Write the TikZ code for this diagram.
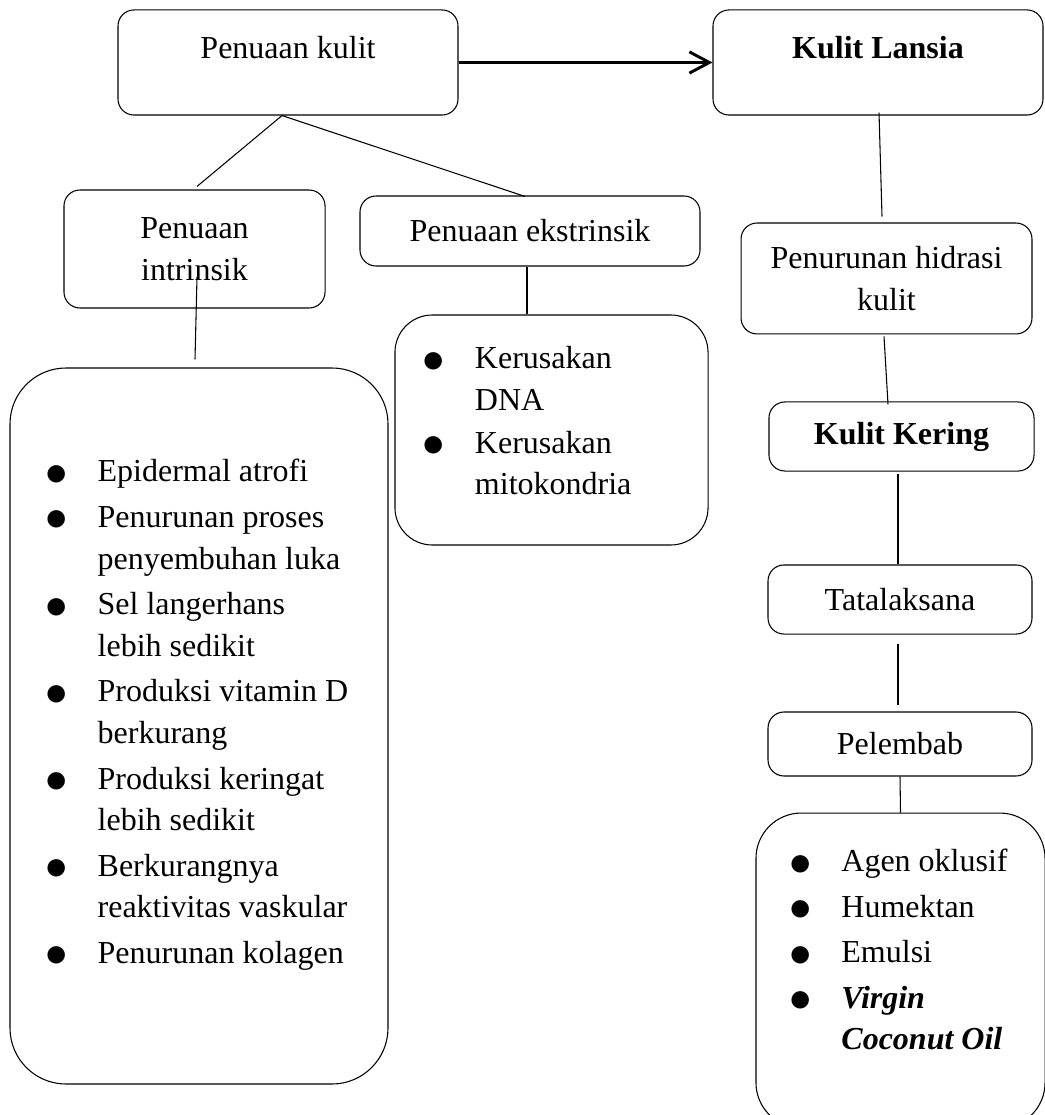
\documentclass[tikz,border=0pt]{standalone}
\usepackage{fontspec}
\usepackage{graphicx}
\setmainfont{Liberation Serif}
\usetikzlibrary{arrows.meta,calc}
\newcommand{\itembullet}{\makebox[18pt][l]{\hspace*{-1.5pt}\raisebox{-1.3pt}{\scalebox{1.4}{$\bullet$}}}}
\newcommand{\hangpad}{\hspace*{18pt}}

\begin{document}
\begin{tikzpicture}[
  x=0.375pt, y=-0.375pt,
  every node/.style={font=\fontsize{12pt}{15.6pt}\selectfont},
  stage/.style={rectangle,rounded corners=6pt,draw,align=center},
  headbox/.style={stage,text height=8.25pt,text depth=11.6pt},
  listbox/.style={rectangle,draw,align=flush left},
  line/.style={-},
  arrow/.style={-{Straight Barb[length=7.5pt,width=8pt]},line width=1.1pt}
]
\useasboundingbox (0,0) rectangle (1044,1115);

\node[headbox,minimum width=127.5pt,minimum height=39.4pt] (kulit) at (288,62.5) {Penuaan kulit};
\node[headbox,minimum width=123.75pt,minimum height=39.4pt] (lansia) at (878,62.5) {\textbf{Kulit Lansia}};
\node[stage,minimum width=97.9pt,minimum height=44.25pt] (intr) at (194.5,249) {Penuaan\\intrinsik};
\node[stage,minimum width=127.5pt,minimum height=26.25pt] (ekstr) at (530,231) {Penuaan ekstrinsik};
\node[stage,minimum width=109.1pt,minimum height=41.6pt] (hidrasi) at (886.5,278.5) {Penurunan hidrasi\\kulit};
\node[stage,minimum width=99.4pt,minimum height=25.9pt] (kering) at (901.5,436.5) {\textbf{Kulit Kering}};
\node[stage,minimum width=99pt,minimum height=25.9pt] (tata) at (900,599.5) {Tatalaksana};
\node[stage,minimum width=99pt,minimum height=24pt] (pelembab) at (900,744) {Pelembab};

\node[listbox,rounded corners=21pt,minimum width=141.75pt,minimum height=268.5pt] (ciri) at (199,726)
  {\itembullet Epidermal atrofi\\[1.5pt]
   \itembullet Penurunan proses\\\hangpad penyembuhan luka\\[1.5pt]
   \itembullet Sel langerhans\\\hangpad lebih sedikit\\[1.5pt]
   \itembullet Produksi vitamin D\\\hangpad berkurang\\[1.5pt]
   \itembullet Produksi keringat\\\hangpad lebih sedikit\\[1.5pt]
   \itembullet Berkurangnya\\\hangpad reaktivitas vaskular\\[1.5pt]
   \itembullet Penurunan kolagen\rule[-11pt]{0pt}{0pt}};
\node[listbox,rounded corners=14pt,minimum width=117.4pt,minimum height=86.25pt,text width=93.4pt] (rusak) at (551.5,430)
  {\itembullet Kerusakan\\\hangpad DNA\\[0.5pt]
   \itembullet Kerusakan\\\hangpad mitokondria\rule[-7.1pt]{0pt}{0pt}};
\node[listbox,rounded corners=17pt,minimum width=108.4pt,minimum height=118.1pt] (jenis) at (900.5,970.5)
  {\itembullet Agen oklusif\\[1.5pt]
   \itembullet Humektan\\[1.5pt]
   \itembullet Emulsi\\[1.5pt]
   \itembullet \textbf{\textit{Virgin}}\\\hangpad\textbf{\textit{Coconut Oil}}\rule[-15.75pt]{0pt}{0pt}};

\draw[arrow] (kulit.east) -- (lansia.west);
\draw[line] ($(kulit.south)+(-6,0)$) -- ($(intr.north)+(2.5,-3)$);
\draw[line] ($(kulit.south)+(-6,0)$) -- ($(ekstr.north)+(-5,1)$);
\draw[line] ($(intr.center)+(2.5,28)$) -- ($(ciri.north)+(-4,-8)$);
\draw[line] ($(ekstr.south)+(-3,0)$) -- ($(rusak.north)+(-24.5,0)$);
\draw[line] ($(lansia.south)+(1,-3)$) -- ($(hidrasi.north)+(-4.5,-6)$);
\draw[line] ($(hidrasi.south)+(-2.5,2)$) -- ($(kering.north)+(-13.5,3)$);
\draw[line] ($(kering.south)+(-3.5,2)$) -- ($(tata.north)+(-2,0)$);
\draw[line] ($(tata.south)+(-2,9)$) -- ($(pelembab.north)+(-2,-6)$);
\draw[line] (pelembab.south) -- (jenis.north);

\end{tikzpicture}
\end{document}
